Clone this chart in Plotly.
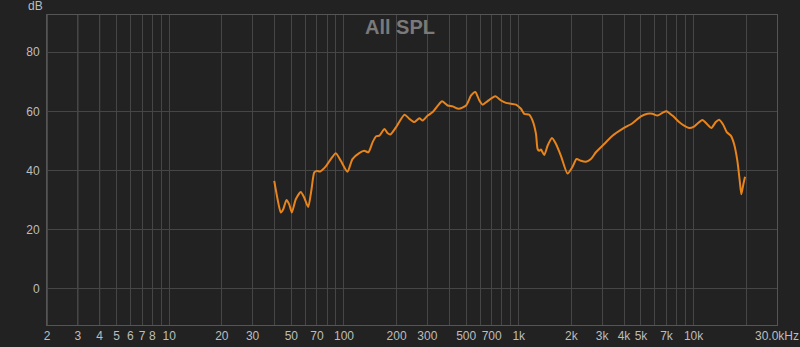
import math
import plotly.graph_objects as go

# ---- data ----
freq_hz = [39.9, 41.7, 43.5, 44.9, 46.9, 48.6, 50.3, 53.0, 56.6, 59.2, 62.4, 65.2, 67.6, 69.9,
           73.1, 78.7, 84.1, 89.8, 95.9, 104.7, 111.8, 122.2, 130.5, 138.0, 146.1, 152.8, 159.5,
           170.4, 178.0, 184.4, 198.8, 221.7, 236.7, 252.8, 270.1, 282.1, 301.2, 321.7, 351.3,
           364.0, 391.9, 418.6, 452.9, 499.3, 533.3, 564.2, 594.8, 621.1, 663.3, 734.0, 791.2,
           845.1, 902.6, 963.8, 1029, 1075, 1148, 1199, 1254, 1281, 1309, 1339, 1399, 1461, 1548,
           1632, 1742, 1900, 2030, 2139, 2267, 2421, 2586, 2761, 3081, 3436, 3918, 4471, 4993,
           5445, 5815, 6211, 6633, 6993, 7568, 8263, 8826, 9425, 10066, 11227, 11991, 12638,
           13395, 13989, 14743, 15476, 16320, 17040, 17800, 18366, 18757, 19260, 19696]
spl_db = [36.5, 30.3, 25.8, 26.9, 30.1, 28.6, 25.8, 30.3, 32.8, 30.9, 27.7, 33.7, 39.4, 39.9,
          39.7, 41.4, 43.9, 45.9, 43.3, 39.6, 43.9, 45.9, 46.7, 46.2, 49.7, 51.6, 51.8,
          54.1, 52.6, 52.2, 54.7, 58.9, 57.5, 56.4, 57.7, 56.9, 58.6, 59.8, 62.6,
          63.4, 62.0, 61.7, 60.9, 62.0, 65.4, 66.6, 63.7, 62.3, 63.5, 65.1, 63.7,
          62.9, 62.6, 62.3, 60.9, 59.2, 58.9, 56.9, 52.4, 47.3, 46.7, 47.1, 45.3, 48.4, 51.0,
          49.0, 45.0, 39.0, 41.3, 43.9, 43.3, 43.0, 43.9, 46.2, 49.0, 51.8, 54.1, 56.0, 58.3,
          59.2, 59.2, 58.6, 59.5, 60.1, 58.6, 56.4, 55.2, 54.4, 54.9, 57.1, 55.6, 54.4,
          56.4, 57.2, 55.6, 53.0, 51.8, 49.0, 43.3, 36.5, 32.0, 35.4, 37.9]

grid_freqs = [2, 3, 4, 5, 6, 7, 8, 9,
              10, 20, 30, 40, 50, 60, 70, 80, 90,
              100, 200, 300, 400, 500, 600, 700, 800, 900,
              1000, 2000, 3000, 4000, 5000, 6000, 7000, 8000, 9000,
              10000, 20000, 30000]
tick_labels = {2: "2", 3: "3", 4: "4", 5: "5", 6: "6", 7: "7", 8: "8", 10: "10",
               20: "20", 30: "30", 50: "50", 70: "70", 100: "100", 200: "200",
               300: "300", 500: "500", 700: "700", 1000: "1k", 2000: "2k", 3000: "3k",
               4000: "4k", 5000: "5k", 7000: "7k", 10000: "10k", 30000: "30.0kHz"}
decades = [10, 100, 1000, 10000]
y_ticks = [0, 20, 40, 60, 80]

BG = "#222222"
GRID = "#464646"
DECADE = "#6e6e6e"
TXT = "#bdbdbd"
ORANGE = "#e8841c"
FONT = "Liberation Sans, Arial, sans-serif"

fig = go.Figure()
fig.add_trace(go.Scatter(x=freq_hz, y=spl_db, mode="lines",
                         line=dict(color=ORANGE, width=2, shape="spline", smoothing=0.6),
                         hoverinfo="skip", showlegend=False))

for d in decades:
    fig.add_shape(type="line", xref="x", yref="paper", x0=math.log10(d), x1=math.log10(d),
                  y0=0, y1=1, line=dict(color=DECADE, width=1), layer="below")

fig.update_layout(
    width=800, height=347,
    margin=dict(l=47, r=23, t=15, b=22),
    paper_bgcolor=BG, plot_bgcolor=BG,
    font=dict(family=FONT, size=12, color=TXT),
    showlegend=False,
    xaxis=dict(type="log", range=[math.log10(2), math.log10(30000)],
               tickmode="array", tickvals=grid_freqs,
               ticktext=[tick_labels.get(f, "") for f in grid_freqs],
               showgrid=True, gridcolor=GRID, gridwidth=1, automargin=False,
               showline=True, linecolor="#555555", mirror=True,
               ticks="", zeroline=False, ticklabelstandoff=0,
               tickfont=dict(size=12, color=TXT)),
    yaxis=dict(range=[-12.2, 92.6], tickmode="array", tickvals=y_ticks,
               showgrid=True, gridcolor=GRID, gridwidth=1, automargin=False,
               showline=True, linecolor="#555555", mirror=True,
               ticks="", zeroline=False, ticklabelstandoff=4,
               tickfont=dict(size=12, color=TXT)),
    annotations=[
        dict(text="<b>All SPL</b>", x=(400 - 47) / 730, y=1 - (27 - 15) / 310,
             xref="paper", yref="paper",
             xanchor="center", yanchor="middle", showarrow=False,
             font=dict(family=FONT, size=20, color="#7a7a7a")),
        dict(text="dB", x=(35 - 47) / 730, y=1 + (15 - 6) / 310, xref="paper", yref="paper",
             xanchor="center", yanchor="middle", showarrow=False,
             font=dict(family=FONT, size=12, color=TXT)),
    ],
)

fig.write_html("out.html")
